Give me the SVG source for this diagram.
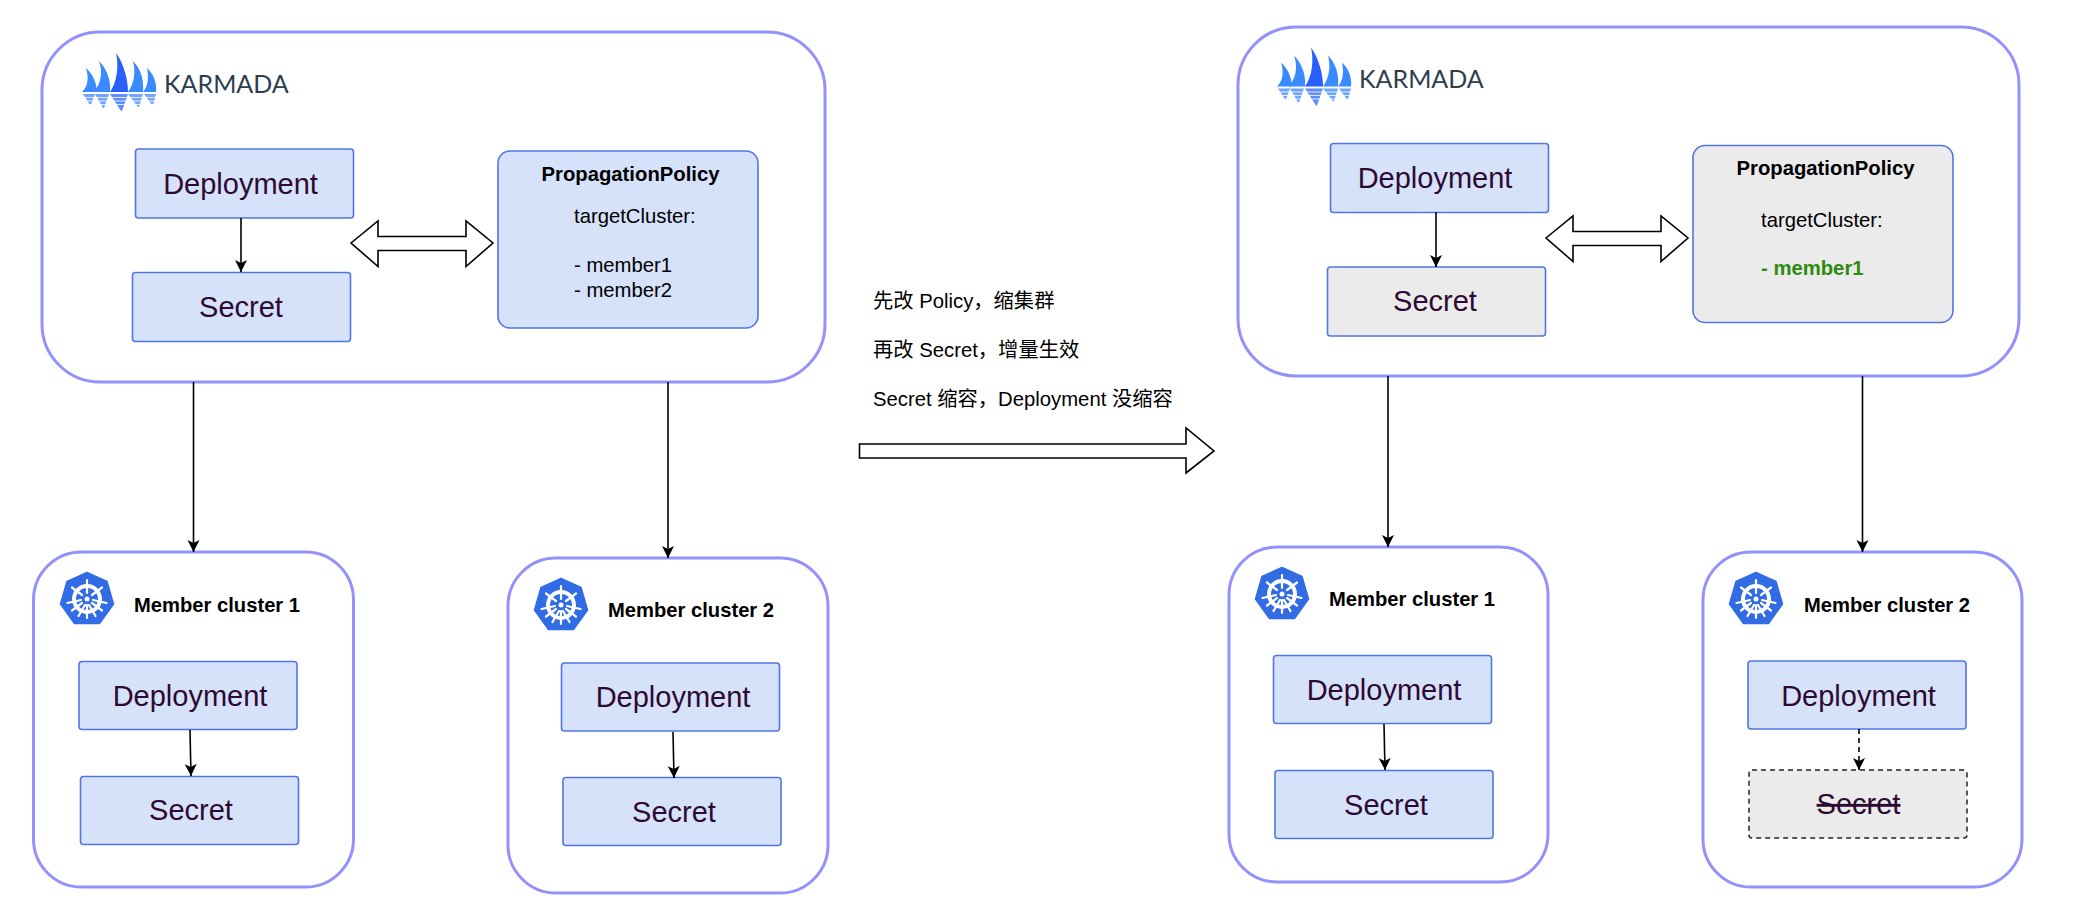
<svg xmlns="http://www.w3.org/2000/svg" width="2083" height="923" viewBox="0 0 2083 923">
<style>
text{font-family:"Liberation Sans","Noto Sans CJK SC",sans-serif;fill:#000}
.outer{fill:#fff;stroke:#9391fb;stroke-width:3}
.box{fill:#d6e2fa;stroke:#4f76e3;stroke-width:1.6}
.gray{fill:#ebebeb;stroke:#4f76e3;stroke-width:1.6}
.dash{fill:#ebebeb;stroke:#222;stroke-width:1.5;stroke-dasharray:5 4}
.lbl{font-size:29px;fill:#2d0a33;text-anchor:middle}
.mem{font-size:20.2px;font-weight:700}
.t{font-size:20.3px}
.b{font-size:20.3px;font-weight:700;text-anchor:middle}
.logo{font-family:Lato,"Liberation Sans",sans-serif;font-size:25px;fill:#2c3e50}
.con{fill:none;stroke:#000;stroke-width:1.6}
.block{fill:#fff;stroke:#000;stroke-width:1.6}
</style>
<defs>
<marker id="arr" markerWidth="14" markerHeight="14" viewBox="0 0 14 14" refX="13" refY="7" orient="auto" markerUnits="userSpaceOnUse"><path d="M1 1L13 7L1 13L4 7Z" fill="#000"/></marker>
<g id="kar">
<g fill="#3a8bff">
<path d="M86 68C93 74 97 84 97 92H82C88 86 89 78 86 68Z"/>
<path d="M99 61C108 70 111 82 110 92H94C101 84 103 72 99 61Z"/>
<path d="M116 53C124 64 128 80 128 92H110C117 82 119 66 116 53Z" fill="#2a5ffb"/>
<path d="M133 61C142 70 144 82 143 92H128C134 84 136 72 133 61Z"/>
<path d="M147 68C154 74 157 84 156 92H143C148 86 149 78 147 68Z"/>
</g>
<g fill="#6ea6ff">
<path d="M83 94H95L91 105L90 105Z"/>
<path d="M95 94H109L104 108L103 108Z"/>
<path d="M110 94H128L122 111L121 111Z" fill="#5f8dff"/>
<path d="M128 94H143L139 107L138 107Z"/>
<path d="M144 94H156L153 105L152 105Z"/>
</g>
<path d="M80 97.500H160M80 101H160M80 104.500H160" stroke="#fff" stroke-width="0.800"/>
</g>
<g id="k8s">
<path d="M27 0.500L47 9.500L53.500 32L39.500 51.500H14.500L0.500 32L7 9.500Z" fill="#326ce5" stroke="#326ce5" stroke-linejoin="round" stroke-width="1.500"/>
<circle cx="27" cy="27" r="13" fill="none" stroke="#fff" stroke-width="4"/>
<circle cx="27" cy="27" r="2.500" fill="#fff"/>
<path d="M27 8V21M27 33V46M12 15.500L22 23M32 31L42 38.500M42 15.500L32 23M22 31L12 38.500M7.500 31L21 28M33 28L46.500 31M18.500 44L25 33M29 33L35.500 44" stroke="#fff" stroke-width="2.200" stroke-linecap="round" fill="none"/>
</g>
</defs>
<rect width="2083" height="923" fill="#fff"/>

<g id="karmada-left">
<rect class="outer" x="42" y="32" width="783" height="350" rx="58"/>
<use href="#kar"/>
<text class="logo" x="164" y="93">KARMADA</text>
</g>
<g id="karmada-right">
<rect class="outer" x="1238" y="27" width="781" height="349" rx="58"/>
<use href="#kar" transform="translate(1195 -5.500)"/>
<text class="logo" x="1359" y="87.500">KARMADA</text>
</g>

<g id="dep-l"><rect class="box" x="135.500" y="149" width="218" height="69" rx="3"/><text class="lbl" x="240.500" y="194">Deployment</text></g>
<g id="sec-l"><rect class="box" x="132.500" y="272.500" width="218" height="69" rx="3"/><text class="lbl" x="241" y="317">Secret</text></g>
<g id="pol-l"><rect class="box" x="498" y="151" width="260" height="177" rx="12"/>
<text class="b" x="630.500" y="181">PropagationPolicy</text>
<text class="t" x="574" y="223">targetCluster:</text>
<text class="t" x="574" y="272">- member1</text>
<text class="t" x="574" y="297">- member2</text></g>

<g id="dep-r"><rect class="box" x="1330.500" y="143.500" width="218" height="69" rx="3"/><text class="lbl" x="1435" y="188">Deployment</text></g>
<g id="sec-r"><rect class="gray" x="1327.500" y="267" width="218" height="69" rx="3"/><text class="lbl" x="1435" y="310.500">Secret</text></g>
<g id="pol-r"><rect class="gray" x="1693" y="145.500" width="260" height="177" rx="12"/>
<text class="b" x="1825.500" y="174.500">PropagationPolicy</text>
<text class="t" x="1761" y="227">targetCluster:</text>
<text class="t" x="1761" y="275" style="fill:#2e8b0e;font-weight:700">- member1</text></g>

<g id="note">
<text class="t" x="873" y="308">先改 Policy，缩集群</text>
<text class="t" x="873" y="357">再改 Secret，增量生效</text>
<text class="t" x="873" y="406">Secret 缩容，Deployment 没缩容</text>
</g>

<g id="m1-l"><rect class="outer" x="33.500" y="552" width="320" height="335" rx="48"/>
<use href="#k8s" transform="translate(60 572)"/>
<text class="mem" x="134" y="612">Member cluster 1</text>
<rect class="box" x="79" y="661.500" width="218" height="68" rx="3"/><text class="lbl" x="190" y="706">Deployment</text>
<rect class="box" x="80.500" y="776.500" width="218" height="68" rx="3"/><text class="lbl" x="191" y="820">Secret</text></g>

<g id="m2-l"><rect class="outer" x="508" y="558" width="320" height="335" rx="48"/>
<use href="#k8s" transform="translate(534 578)"/>
<text class="mem" x="608" y="617">Member cluster 2</text>
<rect class="box" x="561.500" y="663" width="218" height="68" rx="3"/><text class="lbl" x="673" y="707">Deployment</text>
<rect class="box" x="563" y="777.500" width="218" height="68" rx="3"/><text class="lbl" x="674" y="822">Secret</text></g>

<g id="m1-r"><rect class="outer" x="1229" y="547" width="319" height="335" rx="48"/>
<use href="#k8s" transform="translate(1255 567)"/>
<text class="mem" x="1329" y="606">Member cluster 1</text>
<rect class="box" x="1273.500" y="655.500" width="218" height="68" rx="3"/><text class="lbl" x="1384" y="700">Deployment</text>
<rect class="box" x="1275" y="770.500" width="218" height="68" rx="3"/><text class="lbl" x="1386" y="815">Secret</text></g>

<g id="m2-r"><rect class="outer" x="1703" y="552" width="319" height="335" rx="48"/>
<use href="#k8s" transform="translate(1729 572)"/>
<text class="mem" x="1804" y="611.500">Member cluster 2</text>
<rect class="box" x="1748" y="661" width="218" height="68" rx="3"/><text class="lbl" x="1858.500" y="706">Deployment</text>
<rect class="dash" x="1749" y="770" width="218" height="68" rx="3"/><text class="lbl" x="1858.500" y="814" style="text-decoration:line-through">Secret</text></g>

<g id="connectors">
<path class="con" marker-end="url(#arr)" d="M241 218V272"/>
<path class="con" marker-end="url(#arr)" d="M193.500 382V552"/>
<path class="con" marker-end="url(#arr)" d="M668 382V558"/>
<path class="con" marker-end="url(#arr)" d="M190 730L191 776"/>
<path class="con" marker-end="url(#arr)" d="M673 732L674 778"/>
<path class="con" marker-end="url(#arr)" d="M1436 212V267"/>
<path class="con" marker-end="url(#arr)" d="M1388 376V547"/>
<path class="con" marker-end="url(#arr)" d="M1862.500 376V552"/>
<path class="con" marker-end="url(#arr)" d="M1384 724L1385 770"/>
<path class="con" marker-end="url(#arr)" stroke-dasharray="5 4" d="M1859 729V770"/>
<path class="block" d="M351 243L378 221V236.500H466V221L493 243L466 266.500V250.500H378V266.500Z"/>
<path class="block" d="M1546 238L1573 216V231.500H1661V216L1688 238L1661 261.500V245.500H1573V261.500Z"/>
<path class="block" d="M859.500 444H1186V428L1214 451L1186 473V458H859.500Z"/>
</g>
</svg>
